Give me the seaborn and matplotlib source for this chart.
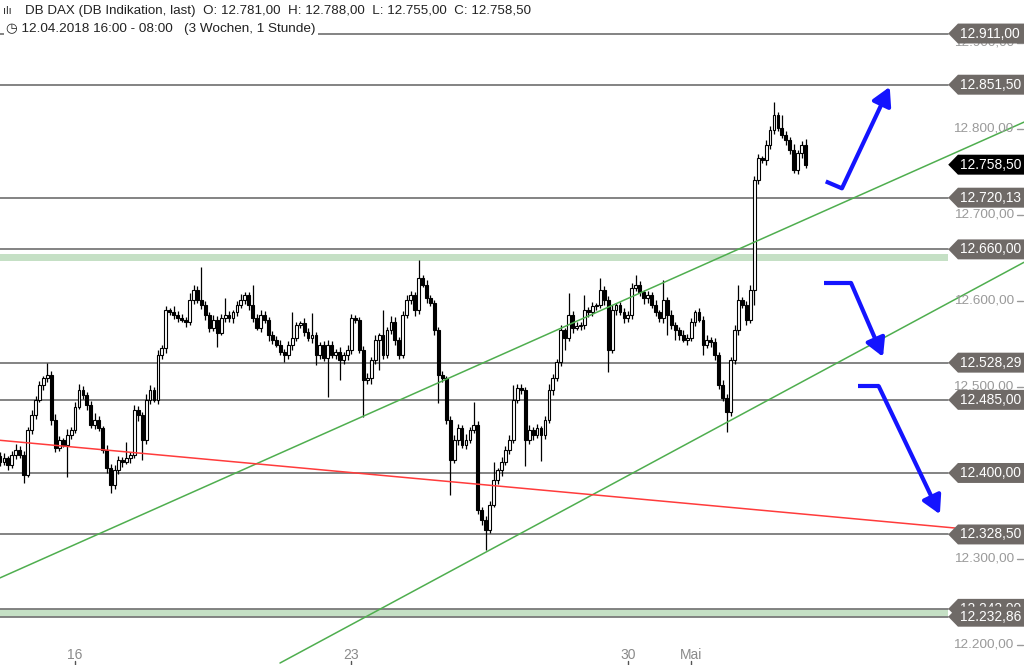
import matplotlib
matplotlib.use("Agg")
import matplotlib.pyplot as plt
from matplotlib.patches import Polygon
from matplotlib.transforms import blended_transform_factory
import pandas as pd
import seaborn as sns

# hourly closes, 12.04.2018 16:00 -> 03.05.2018 08:00
closes = [
    12413, 12417, 12409, 12421, 12427, 12421, 12398, 12450, 12467, 12485,
    12502, 12510, 12514, 12462, 12429, 12438, 12433, 12444, 12450, 12477,
    12497, 12491, 12479, 12456, 12462, 12452, 12427, 12406, 12386, 12403,
    12415, 12413, 12417, 12421, 12473, 12467, 12438, 12485, 12497, 12485,
    12537, 12545, 12589, 12587, 12584, 12580, 12578, 12576, 12601, 12613,
    12601, 12595, 12584, 12569, 12578, 12563, 12580, 12584, 12580, 12587,
    12595, 12601, 12607, 12595, 12580, 12569, 12584, 12578, 12560, 12555,
    12549, 12541, 12537, 12549, 12557, 12572, 12574, 12564, 12557, 12560,
    12537, 12549, 12534, 12549, 12537, 12541, 12531, 12537, 12543, 12580,
    12578, 12543, 12508, 12510, 12531, 12555, 12560, 12537, 12566, 12576,
    12555, 12537, 12584, 12601, 12607, 12589, 12627, 12619, 12603, 12598,
    12566, 12514, 12510, 12462, 12415, 12438, 12452, 12433, 12438, 12450,
    12456, 12357, 12345, 12334, 12363, 12392, 12403, 12413, 12427, 12438,
    12485, 12499, 12497, 12438, 12450, 12444, 12452, 12444, 12462, 12497,
    12510, 12529, 12566, 12557, 12584, 12569, 12571, 12572, 12589, 12587,
    12594, 12595, 12613, 12601, 12543, 12589, 12595, 12587, 12580, 12584,
    12615, 12619, 12610, 12603, 12607, 12595, 12587, 12580, 12601, 12584,
    12572, 12566, 12560, 12555, 12557, 12576, 12587, 12578, 12549, 12555,
    12552, 12537, 12502, 12487, 12471, 12531, 12566, 12601, 12595, 12578,
    12613, 12741, 12766, 12764, 12781, 12799, 12816, 12801, 12793, 12787,
    12776, 12752, 12772, 12781, 12758.5,
]
first_open = 12420

upper_wick = [
    4, 6, 3, 5, 7, 4, 5, 3, 6, 4,
    5, 3, 14, 4, 6, 5, 3, 7, 4, 5,
    6, 4, 3, 5, 8, 4, 3, 5, 4, 6,
    5, 4, 19, 3, 6, 5, 4, 7, 5, 3,
    6, 4, 5, 3, 7, 4, 5, 3, 8, 6,
    4, 39, 5, 3, 6, 4, 5, 19, 4, 3,
    5, 7, 4, 3, 24, 5, 6, 4, 3, 5,
    4, 6, 3, 5, 30, 4, 3, 6, 5, 26,
    4, 3, 5, 6, 4, 3, 5, 4, 6, 5,
    4, 3, 5, 6, 4, 5, 3, 29, 4, 6,
    5, 3, 4, 6, 5, 4, 21, 3, 5, 4,
    3, 4, 5, 3, 4, 6, 5, 4, 7, 3,
    27, 4, 3, 5, 4, 21, 3, 5, 4, 6,
    17, 4, 5, 3, 6, 4, 5, 3, 4, 6,
    5, 4, 6, 3, 25, 4, 5, 3, 18, 4,
    5, 3, 14, 4, 5, 6, 3, 4, 5, 4,
    6, 11, 4, 3, 5, 4, 6, 3, 23, 4,
    5, 3, 4, 6, 5, 4, 3, 5, 4, 6,
    3, 5, 4, 6, 5, 4, 6, 18, 4, 5,
    6, 4, 5, 3, 6, 4, 15, 4, 15, 5,
    4, 6, 3, 5, 7,
]
lower_wick = [
    5, 4, 6, 3, 5, 4, 10, 3, 5, 4,
    3, 5, 4, 6, 5, 4, 3, 38, 5, 4,
    3, 5, 6, 4, 5, 3, 4, 6, 9, 5,
    4, 6, 3, 5, 4, 6, 23, 4, 5, 3,
    5, 4, 6, 3, 5, 4, 3, 6, 4, 5,
    3, 4, 6, 5, 4, 16, 3, 5, 4, 6,
    4, 3, 5, 6, 4, 3, 5, 4, 6, 5,
    3, 4, 8, 5, 6, 4, 3, 5, 4, 6,
    11, 5, 4, 46, 3, 5, 23, 4, 6, 5,
    4, 3, 43, 5, 6, 4, 35, 5, 3, 4,
    6, 5, 3, 4, 5, 6, 4, 3, 5, 4,
    6, 33, 4, 5, 41, 3, 6, 4, 5, 3,
    4, 5, 6, 24, 4, 3, 5, 6, 4, 5,
    3, 4, 5, 30, 4, 6, 3, 30, 5, 4,
    6, 3, 5, 14, 4, 6, 3, 5, 4, 6,
    4, 5, 3, 6, 26, 4, 5, 3, 6, 4,
    5, 3, 4, 6, 5, 3, 4, 5, 6, 24,
    4, 11, 5, 3, 6, 4, 5, 3, 12, 4,
    5, 6, 4, 3, 23, 5, 4, 6, 3, 6,
    4, 18, 5, 3, 6, 4, 5, 3, 4, 6,
    5, 3, 4, 6, 3.5,
]

day_ticks = [20, 90, 160, 176]
day_labels = ["16", "23", "30", "Mai"]

levels = [12911.00, 12851.50, 12720.13, 12660.00, 12528.29, 12485.00, 12400.00, 12328.50, 12242.00, 12232.86]
level_labels = ["12.911,00", "12.851,50", "12.720,13", "12.660,00", "12.528,29",
                "12.485,00", "12.400,00", "12.328,50", "12.242,00", "12.232,86"]
last_price = 12758.50
last_label = "12.758,50"

axis_prices = [12200, 12300, 12400, 12500, 12600, 12700, 12800, 12900]
axis_labels = ["12.200,00", "12.300,00", "12.400,00", "12.500,00",
               "12.600,00", "12.700,00", "12.800,00", "12.900,00"]

zones = [(12646, 12655), (12232.86, 12242.00)]

# trend lines: (index, price) end points
upper_channel = [(1.0, 12278), (260.3, 12808)]
lower_channel = [(71.9, 12179), (260.3, 12645)]
resistance_red = [(1.0, 12438), (242.8, 12336)]

# scenario arrows: path points (index, price)
arrow_up = [(210.1, 12739), (214.2, 12731), (226.3, 12849)]
arrow_mid = [(209.6, 12621), (216.5, 12621), (224.6, 12535)]
arrow_down = [(218.2, 12501), (223.5, 12501), (239.0, 12352)]

header = "DB DAX (DB Indikation, last)  O: 12.781,00  H: 12.788,00  L: 12.755,00  C: 12.758,50"
subheader = "12.04.2018 16:00 - 08:00   (3 Wochen, 1 Stunde)"

sns.set_theme(style="white")
plt.rcParams["font.family"] = ["Liberation Sans", "DejaVu Sans"]

df = pd.DataFrame({"close": closes})
df["idx"] = range(1, len(df) + 1)
df["open"] = [first_open] + closes[:-1]
df["top"] = df[["open", "close"]].max(axis=1)
df["bottom"] = df[["open", "close"]].min(axis=1)
df["high"] = df["top"] + upper_wick
df["low"] = df["bottom"] - lower_wick
df["up"] = df["close"] >= df["open"]

fig = plt.figure(figsize=(10.24, 6.65), dpi=100)
ax = fig.add_axes([0, 0, 1, 1])

TAG_X0 = 0.926
trans = blended_transform_factory(ax.transAxes, ax.transData)

# zones and horizontal levels
for lo, hi in zones:
    ax.axhspan(lo, hi, xmin=0, xmax=TAG_X0, color="#c5e0c5", lw=0, zorder=1)
for lv in levels:
    ax.axhline(lv, xmin=0, xmax=TAG_X0, color="#7a7a7a", lw=1.3, zorder=2)

# candles
ax.vlines(df["idx"], df["low"], df["high"], color="black", lw=0.9, zorder=3)
ax.bar(df["idx"], (df["top"] - df["bottom"]).clip(lower=1.2), bottom=df["bottom"],
       width=0.72, color=["white" if u else "black" for u in df["up"]],
       edgecolor="black", linewidth=0.8, zorder=4)

# trend lines
for pts, col in [(upper_channel, "#4fae4f"), (lower_channel, "#4fae4f"), (resistance_red, "#ff3b3b")]:
    line_df = pd.DataFrame(pts, columns=["x", "y"])
    sns.lineplot(data=line_df, x="x", y="y", ax=ax, color=col, lw=1.1, zorder=5)

ax.set_xlim(1.0, 260.3)
ax.set_ylim(12176.7, 12950)
ax.axis("off")

# blue scenario arrows
blue = "#1414ff"
for path in [arrow_up, arrow_mid, arrow_down]:
    xs, ys = zip(*path)
    ax.plot(xs[:-1], ys[:-1], color=blue, lw=3, solid_capstyle="butt", zorder=6)
    ax.annotate("", xy=path[-1], xytext=path[-2],
                arrowprops=dict(arrowstyle="-|>,head_length=0.9,head_width=0.5",
                                color=blue, lw=3, shrinkA=0, shrinkB=0), zorder=6)

# price axis labels
for p, lab in zip(axis_prices, axis_labels):
    ax.text(0.990, p, lab, transform=trans, ha="right", va="center",
            fontsize=9.7, color="#9a9a9a", zorder=7)
    ax.plot([0.993, 0.999], [p, p], transform=trans, color="#9a9a9a", lw=1, zorder=7)

# level tags
def tag(price, label, face, z):
    h = 11.6
    verts = [(TAG_X0, price), (TAG_X0 + 0.0095, price + h), (1.0, price + h),
             (1.0, price - h), (TAG_X0 + 0.0095, price - h)]
    ax.add_patch(Polygon(verts, closed=True, transform=trans, facecolor=face,
                         edgecolor="none", zorder=z))
    ax.text(0.967, price, label, transform=trans, ha="center", va="center",
            fontsize=9.9, color="white", zorder=z + 0.5)

for i, (lv, lab) in enumerate(zip(levels, level_labels)):
    tag(lv, lab, "#6f6a67", 8 + i)
tag(last_price, last_label, "black", 30)

# date axis
for d, lab in zip(day_ticks, day_labels):
    ax.text(d, 0.015, lab, transform=ax.get_xaxis_transform(), ha="center",
            va="center", fontsize=10, color="#8a8a8a")
    ax.plot([d, d], [0.0, 0.006], transform=ax.get_xaxis_transform(), color="#555555", lw=1)

# header
ax.text(0.003, 0.984, "ılı", transform=ax.transAxes, fontsize=8, color="#333333",
        va="center", ha="left")
ax.text(0.024, 0.984, header, transform=ax.transAxes, fontsize=9.6, color="#222222",
        va="center", ha="left")
ax.text(0.006, 0.957, "◷ " + subheader, transform=ax.transAxes, fontsize=9.7,
        color="#222222", va="center", ha="left",
        bbox=dict(facecolor="white", edgecolor="none", pad=1.5), zorder=20)

fig.savefig("out.png", dpi=100)
